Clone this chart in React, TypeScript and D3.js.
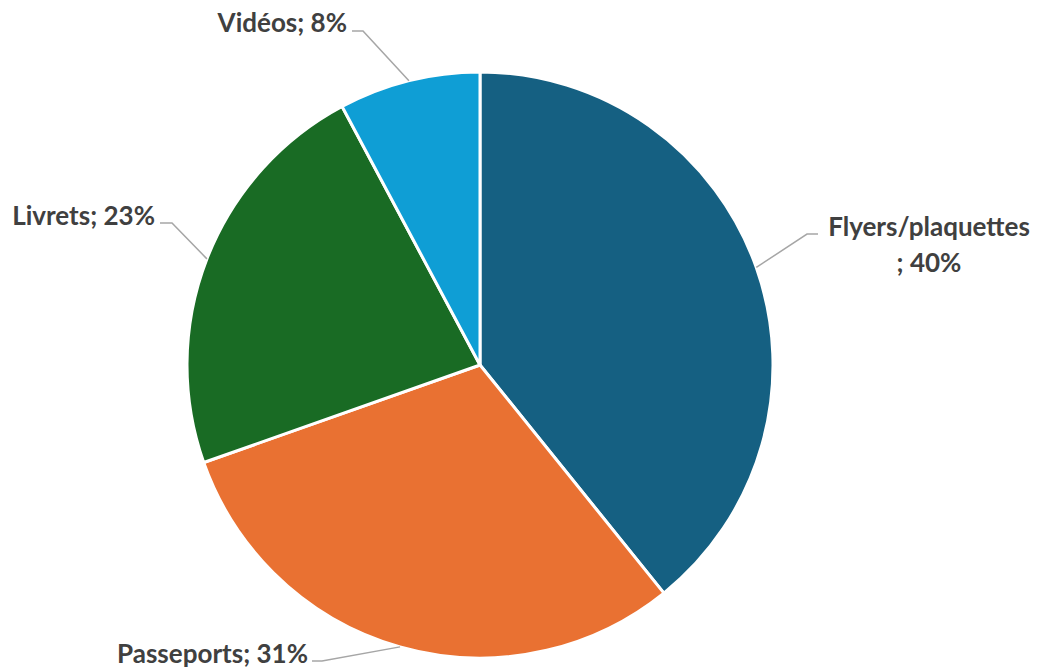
import React from "react";
import * as d3 from "d3";

const categories = ["Flyers/plaquettes", "Passeports", "Livrets", "Vidéos"];
const values = [39.2, 30.4, 22.6, 7.8];
const valueLabels = ["40%", "31%", "23%", "8%"];
const colors = ["#156082", "#E97132", "#196B24", "#0F9ED5"];

const W = 1045;
const H = 670;
const CX = 480;
const CY = 365;
const R = 293;

// label layout: elbow point, end of horizontal segment, text lines & anchor
const layout = [
  { elbow: [807, 234], end: [818, 234], anchor: "middle", tx: 929, ty: [236, 272], split: true },
  { elbow: [322, 661], end: [312, 661], anchor: "end", tx: 308, ty: [663], split: false },
  { elbow: [172, 223], end: [160, 223], anchor: "end", tx: 155, ty: [225], split: false },
  { elbow: [363, 31], end: [352, 31], anchor: "end", tx: 347, ty: [32], split: false },
];

export default function App() {
  const pie = d3.pie<number>().sort(null).value((d) => d)(values);
  const arc = d3.arc<d3.PieArcDatum<number>>().innerRadius(0).outerRadius(R);
  const font = "Lato, 'Open Sans', sans-serif";

  return (
    <svg width={W} height={H} style={{ position: "absolute", left: 0, top: 0, background: "#fff" }}>
      <g transform={`translate(${CX},${CY})`}>
        {pie.map((d, i) => (
          <path key={i} d={arc(d) || ""} fill={colors[i]} stroke="#fff" strokeWidth={3} strokeLinejoin="round" />
        ))}
      </g>
      {pie.map((d, i) => {
        const mid = (d.startAngle + d.endAngle) / 2;
        const px = CX + R * Math.sin(mid);
        const py = CY - R * Math.cos(mid);
        const L = layout[i];
        const text = `${categories[i]}; ${valueLabels[i]}`;
        const lines = L.split ? [categories[i], `; ${valueLabels[i]}`] : [text];
        return (
          <g key={i}>
            <polyline
              points={`${px},${py} ${L.elbow[0]},${L.elbow[1]} ${L.end[0]},${L.end[1]}`}
              fill="none"
              stroke="#a6a6a6"
              strokeWidth={1.5}
            />
            {lines.map((t, j) => (
              <text
                key={j}
                x={L.tx}
                y={L.ty[j]}
                textAnchor={L.anchor}
                fontFamily={font}
                fontWeight={700}
                fontSize={26}
                fill="#404040"
              >
                {t}
              </text>
            ))}
          </g>
        );
      })}
    </svg>
  );
}
